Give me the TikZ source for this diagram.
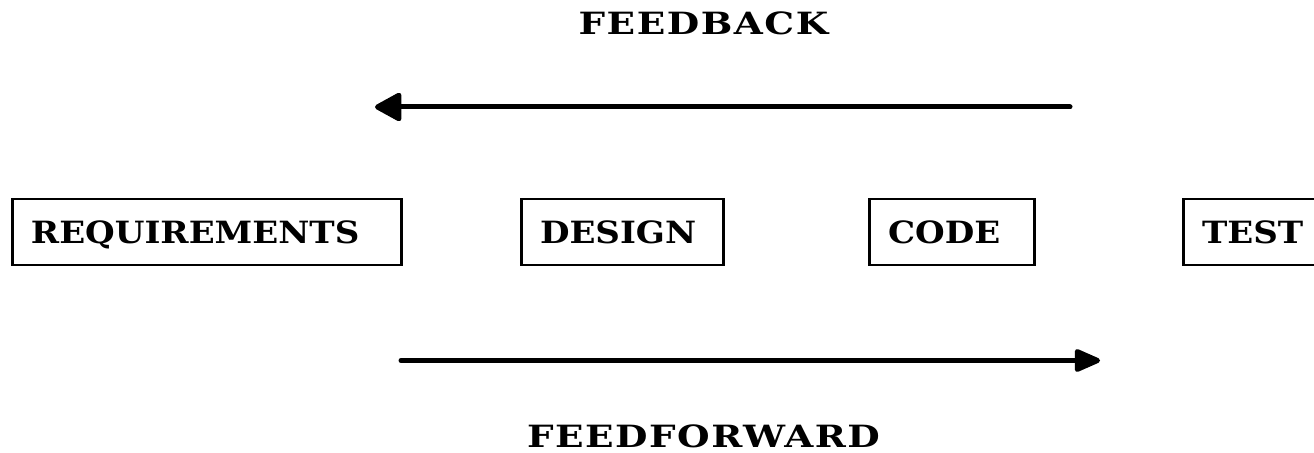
\documentclass[tikz,border=0pt]{standalone}
\usepackage{fontspec}
\newfontfamily\stagefont{DejaVu Serif}[FakeStretch=1.11]
\newfontfamily\titlefont{DejaVu Serif}[FakeStretch=1.22,LetterSpace=5]
\usetikzlibrary{arrows.meta}

\tikzset{
	stage/.style={draw, line width=2pt, anchor=west, inner xsep=14pt, minimum height=49.5pt, text depth=0pt, align=left, font=\fontsize{23}{27}\stagefont\bfseries},
	flow/.style={line width=3.75pt, line cap=round, -{Triangle[length=22pt,width=#1,round]}},
	flow/.default=20pt,
	title/.style={inner sep=0pt, text depth=0pt, font=\fontsize{23}{27}\titlefont\bfseries}
}

\begin{document}
\begin{tikzpicture}[x=0.75pt,y=-0.75pt]
		\useasboundingbox (0,0) rectangle (1314,453);
		\node[stage, text width=264pt] (req) at (11,232) {REQUIREMENTS};
		\node[stage, text width=123.5pt] (des) at (520,232) {DESIGN};
		\node[stage, text width=96pt] (cod) at (868,232) {CODE};
		\node[stage, text width=88pt] (tst) at (1182,232) {TEST};
		\path (1070,107) coordinate (fb-from) (375,107) coordinate (fb-to);
		\path (401,360.5) coordinate (ff-from) (1100,360.5) coordinate (ff-to);
		\draw[flow=23pt] (fb-from) -- (fb-to);
		\draw[flow=18pt] (ff-from) -- (ff-to);
		\node[title] (fb) at (703.5,23.5) {FEEDBACK};
		\node[title] (ff) at (703.5,436.5) {FEEDFORWARD};
	\end{tikzpicture}
\end{document}
